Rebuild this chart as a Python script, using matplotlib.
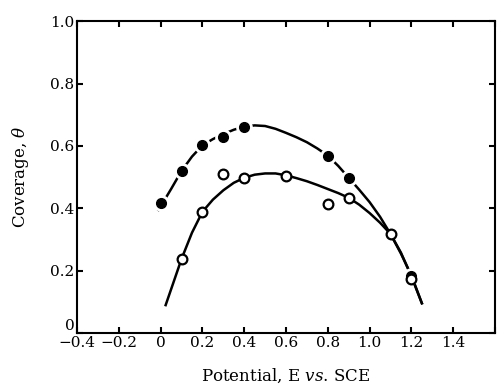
import numpy as np
import matplotlib.pyplot as plt

# punkty pomiarowe (kółka pełne)
e_filled = [0.0, 0.1, 0.2, 0.3, 0.4, 0.8, 0.9, 1.2]
theta_filled = [0.418, 0.52, 0.604, 0.63, 0.66, 0.569, 0.498, 0.183]

# punkty pomiarowe (kółka puste)
e_open = [0.1, 0.2, 0.3, 0.4, 0.6, 0.8, 0.9, 1.1, 1.2]
theta_open = [0.238, 0.389, 0.511, 0.498, 0.505, 0.415, 0.434, 0.318, 0.174]

# krzywe
e_upper = [-0.01, 0.05, 0.1, 0.15, 0.2, 0.25, 0.3, 0.35, 0.4, 0.45, 0.5, 0.55, 0.6,
           0.65, 0.7, 0.75, 0.8, 0.85, 0.9, 0.95, 1.0, 1.05, 1.1, 1.15, 1.2, 1.25]
theta_upper = [0.395, 0.462, 0.52, 0.566, 0.602, 0.622, 0.638, 0.652, 0.662, 0.666, 0.664,
               0.655, 0.642, 0.628, 0.612, 0.592, 0.569, 0.536, 0.498, 0.46, 0.42, 0.373,
               0.318, 0.255, 0.185, 0.096]
e_lower = [0.024, 0.06, 0.1, 0.15, 0.2, 0.25, 0.3, 0.35, 0.4, 0.45, 0.5, 0.55, 0.6,
           0.65, 0.7, 0.75, 0.8, 0.85, 0.9, 0.95, 1.0, 1.05, 1.1, 1.15, 1.2, 1.25]
theta_lower = [0.09, 0.16, 0.238, 0.322, 0.389, 0.428, 0.458, 0.482, 0.498, 0.508, 0.512,
               0.512, 0.506, 0.497, 0.487, 0.475, 0.462, 0.449, 0.434, 0.412, 0.385, 0.354,
               0.318, 0.258, 0.182, 0.096]

plt.rcParams['font.family'] = 'DejaVu Serif'
plt.rcParams['mathtext.fontset'] = 'dejavuserif'

fig = plt.figure(figsize=(4.97, 3.92), dpi=100)
ax = fig.add_axes([0.155, 0.150, 0.841, 0.796])

ax.plot(e_upper, theta_upper, color='black', lw=1.8, zorder=2)
ax.plot(e_lower, theta_lower, color='black', lw=1.8, zorder=2)

# biała obwódka wokół pełnych punktów (przerwy w linii)
ax.plot(e_filled, theta_filled, 'o', ms=11, color='white', zorder=3)
ax.plot(e_filled, theta_filled, 'o', ms=7, color='black', zorder=4)
ax.plot(e_open, theta_open, 'o', ms=7, mfc='white', mec='black', mew=1.6, zorder=4)

ax.set_xlim(-0.4, 1.6)
ax.set_ylim(0, 1.0)
xt = [-0.4, -0.2, 0, 0.2, 0.4, 0.6, 0.8, 1.0, 1.2, 1.4]
ax.set_xticks(xt + [1.6])
ax.set_xticklabels(['\u22120.4', '\u22120.2', '0', '0.2', '0.4', '0.6', '0.8', '1.0', '1.2', '1.4', ''])
ax.set_yticks([0, 0.2, 0.4, 0.6, 0.8, 1.0])
ax.set_yticklabels(['0', '0.2', '0.4', '0.6', '0.8', '1.0'])
ax.tick_params(direction='in', length=4, width=1.5, top=True, right=True,
               labelsize=11, pad=2)
ax.get_yticklabels()[0].set_verticalalignment('bottom')
for s in ax.spines.values():
    s.set_linewidth(1.5)

ax.set_xlabel('Potential, E $\\it{vs}$. SCE', fontsize=12, labelpad=12)
ax.set_ylabel('Coverage, $\\theta$', fontsize=12, labelpad=14)

fig.savefig('out.png', dpi=100)
